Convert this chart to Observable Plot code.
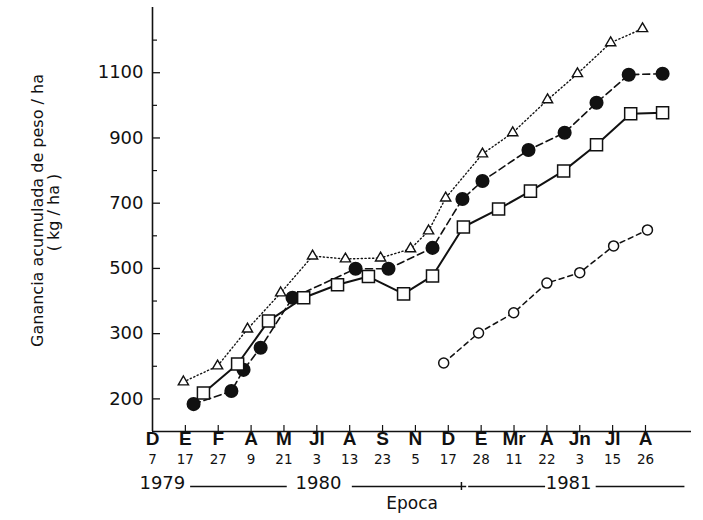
<!DOCTYPE html>
<html><head><meta charset="utf-8">
<script src="https://cdn.jsdelivr.net/npm/d3@7"></script>
<script src="https://cdn.jsdelivr.net/npm/@observablehq/plot@0.6"></script>
<style>body{margin:0;background:#fff}</style>
</head><body><div id="chart"></div>
<script>
// Sampling dates (x categories, index units)
const months = ["D","E","F","A","M","Jl","A","S","N","D","E","Mr","A","Jn","Jl","A"];
const days = ["7","17","27","9","21","3","13","23","5","17","28","11","22","3","15","26"];

// Y axis ticks (axis units) and their printed labels
const yMajor = [100, 300, 500, 700, 900, 1100];
const yMajorLabels = ["200", "300", "500", "700", "900", "1100"];
const yMinor = [200, 400, 600, 800, 1000, 1200];

// Series: open triangles (dotted line)
const triX = [0.94, 1.98, 2.89, 3.90, 4.87, 5.87, 6.94, 7.85, 8.40, 8.92, 10.04, 10.96, 12.02, 12.93, 13.94, 14.91];
const triY = [152, 201, 314, 425, 538, 529, 532, 560, 615, 716, 851, 916, 1017, 1097, 1192, 1235];
// filled circles (dash line)
const fcX = [1.25, 2.40, 2.77, 3.29, 4.26, 6.18, 7.18, 8.52, 9.43, 10.04, 11.44, 12.54, 13.51, 14.49, 15.52];
const fcY = [84, 124, 189, 257, 410, 499, 499, 563, 713, 768, 863, 916, 1008, 1094, 1097];
// open squares (solid line)
const sqX = [1.55, 2.59, 3.53, 4.60, 5.63, 6.57, 7.64, 8.52, 9.46, 10.53, 11.50, 12.51, 13.51, 14.55, 15.52];
const sqY = [118, 207, 339, 410, 450, 475, 422, 477, 627, 682, 737, 799, 879, 974, 977];
// open circles (short dash line)
const ocX = [8.86, 9.92, 10.99, 12.0, 13.0, 14.03, 15.06];
const ocY = [210, 302, 364, 455, 487, 569, 618];

// Year band below the axis
const yearLabels = ["1979", "1980", "1981"];
const yearLabelX = [0.3, 5.05, 12.66];
const yearLineX1 = [1.16, 6.08, 9.62, 13.5];
const yearLineX2 = [4.10, 9.56, 11.96, 16.2];
const yearBoundary = [9.4];

const toRows = (xs, ys) => xs.map((x, i) => ({x, y: ys[i]}));
const tri = toRows(triX, triY), fc = toRows(fcX, fcY), sq = toRows(sqX, sqY), oc = toRows(ocX, ocY);

const W = 703, H = 520, mL = 152, mR = 12, mT = 7, mB = 89;
const pW = W - mL - mR, pH = H - mT - mB;
const font = "DejaVu Sans, Liberation Sans, sans-serif";
const ink = "#111";

const chart = Plot.plot({
  width: W, height: H,
  marginLeft: mL, marginRight: mR, marginTop: mT, marginBottom: mB,
  style: {fontFamily: font, background: "#fff", color: ink},
  x: {domain: [0, 16.4], axis: null},
  y: {domain: [0, 1300], axis: null},
  marks: [
    Plot.ruleX([0], {stroke: ink, strokeWidth: 1.6}),
    Plot.ruleY([0], {stroke: ink, strokeWidth: 1.6}),
    Plot.tickY(yMajor, {y: d => d, insetRight: pW - 8, stroke: ink, strokeWidth: 1.3}),
    Plot.tickY(yMinor, {y: d => d, insetRight: pW - 5, stroke: ink, strokeWidth: 1.2}),
    Plot.tickX(d3.range(1, months.length), {x: d => d, insetTop: pH - 6, stroke: ink, strokeWidth: 1.2}),
    Plot.text(yMajor, {y: d => d, text: (d, i) => yMajorLabels[i], frameAnchor: "left", textAnchor: "end", dx: -9, fontSize: 18, fill: ink}),
    Plot.text(months, {x: (d, i) => i, text: d => d, frameAnchor: "bottom", dy: 13, fontSize: 19, fontWeight: "bold", fontFamily: "Liberation Sans, Arial, sans-serif", fill: ink}),
    Plot.text(days, {x: (d, i) => i, text: d => d, frameAnchor: "bottom", dy: 32, fontSize: 13.5, fill: ink}),
    Plot.text(yearLabels, {x: (d, i) => yearLabelX[i], text: d => d, frameAnchor: "bottom", dy: 57, fontSize: 18, fill: ink}),
    Plot.ruleY(yearLineX1, {y: () => 0, x1: d => d, x2: (d, i) => yearLineX2[i], dy: 55, stroke: ink, strokeWidth: 1.3}),
    Plot.ruleX(yearBoundary, {x: d => d, y1: () => 0, y2: () => 0, dy: 55, insetTop: -4, insetBottom: -4, stroke: ink, strokeWidth: 1.5}),
    Plot.text(["Epoca"], {x: () => 7.9, text: d => d, frameAnchor: "bottom", dy: 77, fontSize: 17, fill: ink}),
    Plot.text(["Ganancia acumulada de peso / ha"], {text: d => d, frameAnchor: "left", textAnchor: "middle", rotate: -90, dx: -115, dy: -9, fontSize: 16, fill: ink}),
    Plot.text(["( kg / ha )"], {text: d => d, frameAnchor: "left", textAnchor: "middle", rotate: -90, dx: -99, dy: -7, fontSize: 16, fill: ink}),
    // series lines
    Plot.line(tri, {x: "x", y: "y", stroke: ink, strokeWidth: 1.4, strokeDasharray: "1.2,2.6"}),
    Plot.line(fc, {x: "x", y: "y", stroke: ink, strokeWidth: 1.6, strokeDasharray: "7,4"}),
    Plot.line(sq, {x: "x", y: "y", stroke: ink, strokeWidth: 2}),
    Plot.line(oc, {x: "x", y: "y", stroke: ink, strokeWidth: 1.5, strokeDasharray: "5,4"}),
    // markers
    Plot.dot(tri, {x: "x", y: "y", symbol: "triangle", r: 3.8, fill: "#fff", stroke: ink, strokeWidth: 1.4}),
    Plot.dot(fc, {x: "x", y: "y", symbol: "circle", r: 6.3, fill: ink, stroke: ink}),
    Plot.dot(sq, {x: "x", y: "y", symbol: "square", r: 6.8, fill: "#fff", stroke: ink, strokeWidth: 1.5}),
    Plot.dot(oc, {x: "x", y: "y", symbol: "circle", r: 5, fill: "#fff", stroke: ink, strokeWidth: 1.5})
  ]
});
document.getElementById("chart").appendChild(chart);
</script></body></html>
